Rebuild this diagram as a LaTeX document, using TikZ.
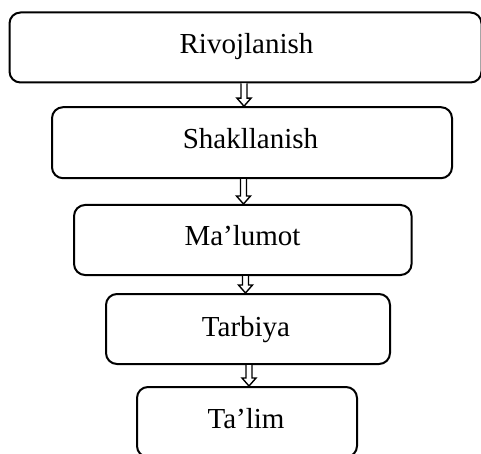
\documentclass[tikz,border=0pt]{standalone}
\usepackage{fontspec}
\setmainfont{Liberation Serif}
\usetikzlibrary{calc}
\tikzset{
  box/.style={draw, line width=2pt, rounded corners=11pt, rectangle, inner sep=0pt},
  lbl/.style={anchor=base, inner sep=0pt, font=\fontsize{29}{34}\selectfont},
  blk/.style={draw, line width=1.4pt, fill=white, line join=miter}
}
\newcommand{\blkarr}[3]{%
  \draw[blk] let \p1=(#1.south), \p2=(#2.north) in
    (#3pt-3pt,\y1) -- (#3pt-3pt,\y2+8pt) -- (#3pt-7pt,\y2+8pt) -- (#3pt,\y2)
    -- (#3pt+7pt,\y2+8pt) -- (#3pt+3pt,\y2+8pt) -- (#3pt+3pt,\y1);}
\begin{document}
\begin{tikzpicture}[x=1pt,y=-1pt]
\useasboundingbox (0,0) rectangle (481,454);
\clip (0,0) rectangle (481,454);
\node[box, minimum width=472pt, minimum height=70pt] (b1) at (245.5,47.5) {};
\node[box, minimum width=400pt, minimum height=71pt] (b2) at (252,142.7) {};
\node[box, minimum width=337.5pt, minimum height=70pt] (b3) at (242.8,240) {};
\node[box, minimum width=284pt, minimum height=70pt] (b4) at (248,329) {};
\node[box, minimum width=220pt, minimum height=70pt] (b5) at (247,422) {};
\node[lbl] (t1) at (246.5,53.3) {Rivojlanish};
\node[lbl] (t2) at (250.5,148.3) {Shakllanish};
\node[lbl] (t3) at (242.5,245) {Ma’lumot};
\node[lbl] (t4) at (246,336.7) {Tarbiya};
\node[lbl] (t5) at (246,428.3) {Ta’lim};
\blkarr{b1}{b2}{244}
\blkarr{b2}{b3}{243.5}
\blkarr{b3}{b4}{245.5}
\blkarr{b4}{b5}{249}
\end{tikzpicture}
\end{document}
